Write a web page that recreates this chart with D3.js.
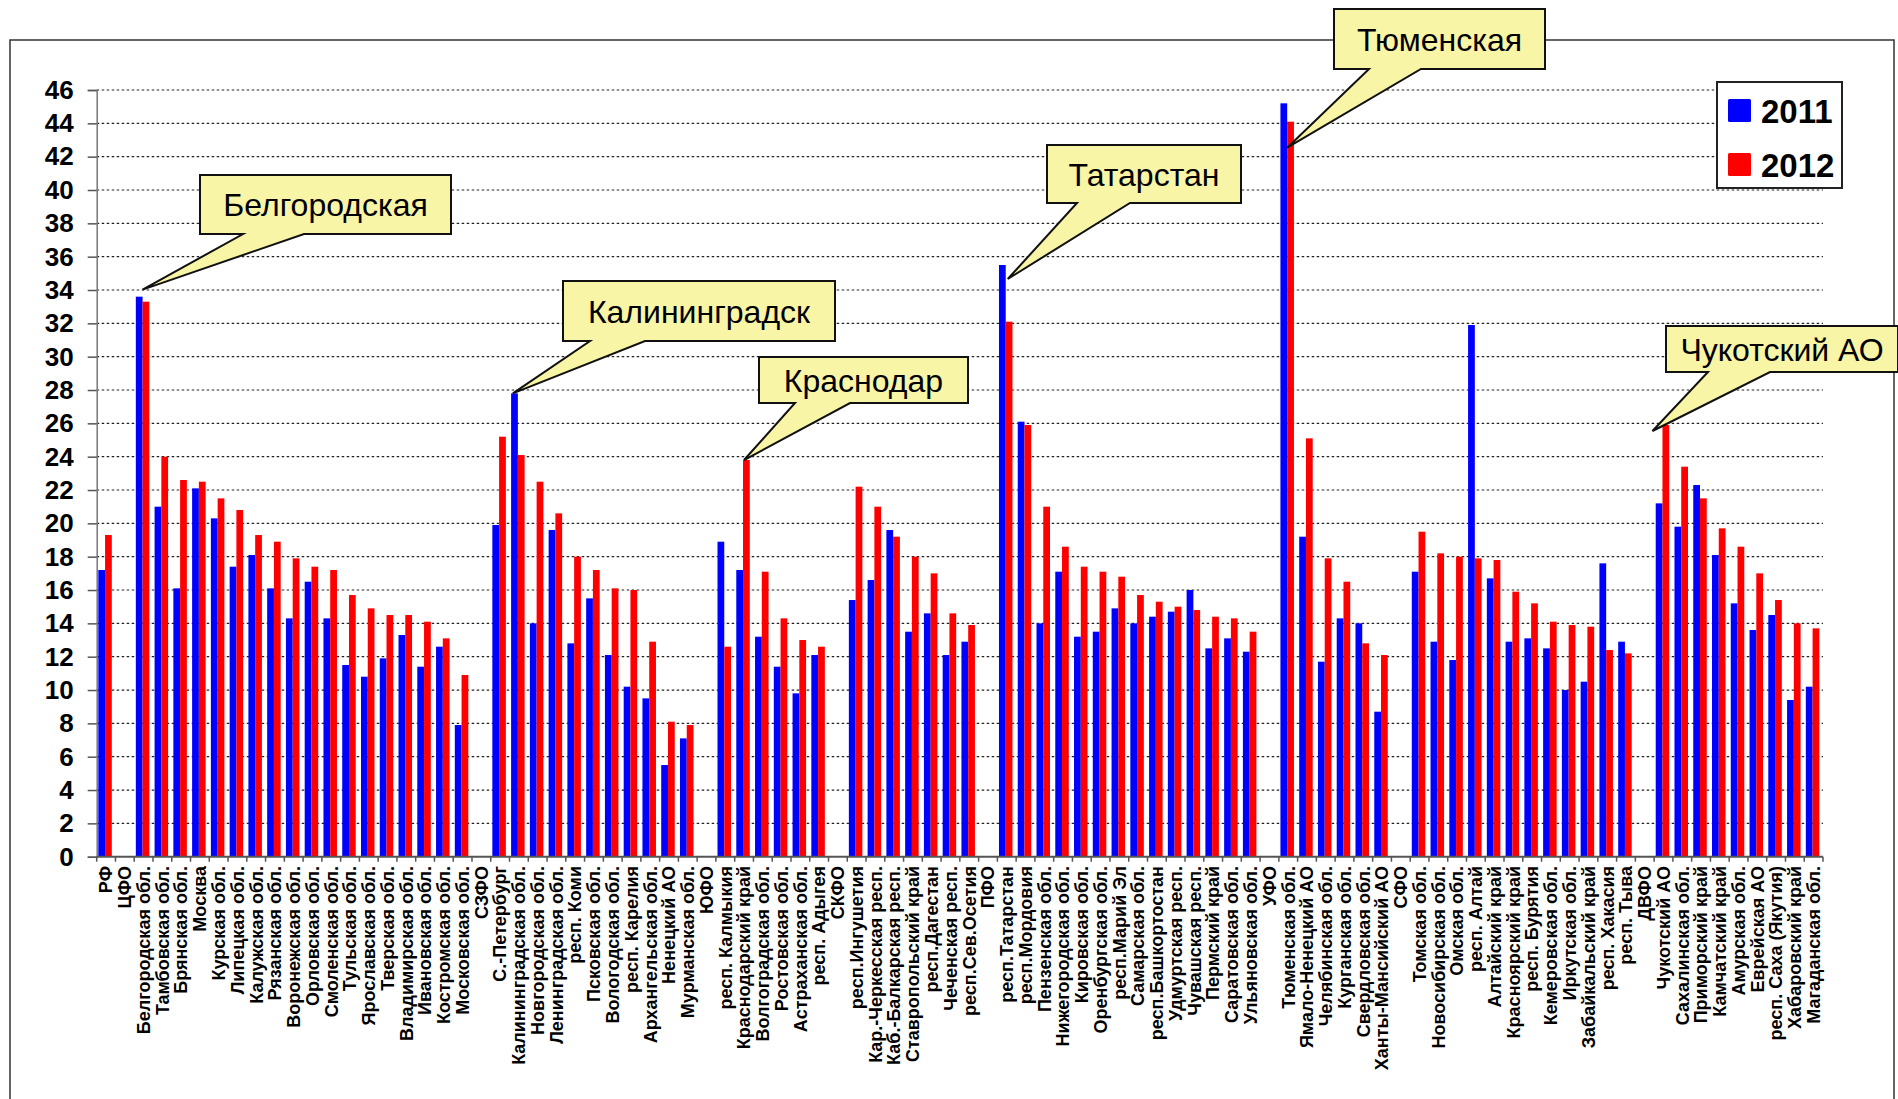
<!DOCTYPE html>
<html>
<head>
<meta charset="utf-8">
<script src="https://cdn.jsdelivr.net/npm/d3@7"></script>
<style>
  body { margin: 0; background: #fff; }
  text { font-family: "Liberation Sans", Arial, sans-serif; }
</style>
</head>
<body>
<div id="chart"></div>
<script>
// categories (district headers have no values)
var categories = ["РФ","ЦФО","Белгородская обл.","Тамбовская обл.","Брянская обл.","Москва","Курская обл.","Липецкая обл.","Калужская обл.","Рязанская обл.","Воронежская обл.","Орловская обл.","Смоленская обл.","Тульская обл.","Ярославская обл.","Тверская обл.","Владимирская обл.","Ивановская обл.","Костромская обл.","Московская обл.",
  "СЗФО","С.-Петербург","Калининградская обл.","Новгородская обл.","Ленинградская обл.","респ. Коми","Псковская обл.","Вологодская обл.","респ. Карелия","Архангельская обл.","Ненецкий АО","Мурманская обл.",
  "ЮФО","респ. Калмыкия","Краснодарский край","Волгоградская обл.","Ростовская обл.","Астраханская обл.","респ. Адыгея",
  "СКФО","респ.Ингушетия","Кар.-Черкесская респ.","Каб.-Балкарская респ.","Ставропольский край","респ.Дагестан","Чеченская респ.","респ.Сев.Осетия",
  "ПФО","респ.Татарстан","респ.Мордовия","Пензенская обл.","Нижегородская обл.","Кировская обл.","Оренбургская обл.","респ.Марий Эл","Самарская обл.","респ.Башкортостан","Удмуртская респ.","Чувашская респ.","Пермский край","Саратовская обл.","Ульяновская обл.",
  "УФО","Тюменская обл.","Ямало-Ненецкий АО","Челябинская обл.","Курганская обл.","Свердловская обл.","Ханты-Мансийский АО",
  "СФО","Томская обл.","Новосибирская обл.","Омская обл.","респ. Алтай","Алтайский край","Красноярский край","респ. Бурятия","Кемеровская обл.","Иркутская обл.","Забайкальский край","респ. Хакасия","респ. Тыва",
  "ДВФО","Чукотский АО","Сахалинская обл.","Приморский край","Камчатский край","Амурская обл.","Еврейская АО","респ. Саха (Якутия)","Хабаровский край","Магаданская обл."];

var values2011 = [17.2,null,33.6,21.0,16.1,22.1,20.3,17.4,18.1,16.1,14.3,16.5,14.3,11.5,10.8,11.9,13.3,11.4,12.6,7.9,
  null,19.9,27.8,14.0,19.6,12.8,15.5,12.1,10.2,9.5,5.5,7.1,
  null,18.9,17.2,13.2,11.4,9.8,12.1,
  null,15.4,16.6,19.6,13.5,14.6,12.1,12.9,
  null,35.5,26.1,14.0,17.1,13.2,13.5,14.9,14.0,14.4,14.7,16.0,12.5,13.1,12.3,
  null,45.2,19.2,11.7,14.3,14.0,8.7,
  null,17.1,12.9,11.8,31.9,16.7,12.9,13.1,12.5,10.0,10.5,17.6,12.9,
  null,21.2,19.8,22.3,18.1,15.2,13.6,14.5,9.4,10.2];

var values2012 = [19.3,null,33.3,24.0,22.6,22.5,21.5,20.8,19.3,18.9,17.9,17.4,17.2,15.7,14.9,14.5,14.5,14.1,13.1,10.9,
  null,25.2,24.1,22.5,20.6,18.0,17.2,16.1,16.0,12.9,8.1,7.9,
  null,12.6,23.8,17.1,14.3,13.0,12.6,
  null,22.2,21.0,19.2,18.0,17.0,14.6,13.9,
  null,32.1,25.9,21.0,18.6,17.4,17.1,16.8,15.7,15.3,15.0,14.8,14.4,14.3,13.5,
  null,44.1,25.1,17.9,16.5,12.8,12.1,
  null,19.5,18.2,18.0,17.9,17.8,15.9,15.2,14.1,13.9,13.8,12.4,12.2,
  null,25.9,23.4,21.5,19.7,18.6,17.0,15.4,14.0,13.7];

var seriesNames = ["2011", "2012"];
var seriesColors = ["#0000ff", "#ff0000"];
var yTicks = d3.range(0, 47, 2);

// callouts: label, category, series whose bar top the pointer aims at
var callouts = [
  { label: "Белгородская", cat: "Белгородская обл.", s: 0 },
  { label: "Калининградск", cat: "Калининградская обл.", s: 0 },
  { label: "Краснодар", cat: "Краснодарский край", s: 1 },
  { label: "Татарстан", cat: "респ.Татарстан", s: 0 },
  { label: "Тюменская", cat: "Тюменская обл.", s: 1 },
  { label: "Чукотский АО", cat: "Чукотский АО", s: 1 }
];

var svgWidth = 1898;
var svgHeight = 1099;

var svg = d3.select("#chart")
  .append("svg")
  .attr("width", svgWidth)
  .attr("height", svgHeight);

svg.append("rect").attr("width", svgWidth).attr("height", svgHeight).attr("fill", "#fff");

// outer frame
svg.append("rect")
  .attr("x", 10).attr("y", 40)
  .attr("width", 1884).attr("height", 1100)
  .attr("fill", "none")
  .attr("stroke", "#333")
  .attr("stroke-width", 1.5);

var plot = { left: 96.7, right: 1823, top: 90, bottom: 856.7 };

var x = d3.scaleBand()
  .domain(categories)
  .range([plot.left, plot.right]);

var bw = x.bandwidth();
var xSub = d3.scaleBand()
  .domain(seriesNames)
  .range([bw * 0.085, bw * 0.805]);

var y = d3.scaleLinear()
  .domain([0, 46])
  .range([plot.bottom, plot.top]);

// gridlines
svg.append("g")
  .selectAll("line")
  .data(yTicks.filter(d => d > 0))
  .enter()
  .append("line")
  .attr("x1", plot.left)
  .attr("x2", plot.right)
  .attr("y1", d => y(d))
  .attr("y2", d => y(d))
  .attr("stroke", "#222")
  .attr("stroke-width", 1.2)
  .attr("stroke-dasharray", "2.5,2.5");

// bars
var series = [values2011, values2012];
var barGroup = svg.append("g");
series.forEach(function(vals, si) {
  barGroup.selectAll(".bar" + si)
    .data(categories.map((c, i) => ({ cat: c, v: vals[i] })).filter(d => d.v != null))
    .enter()
    .append("rect")
    .attr("x", d => x(d.cat) + xSub(seriesNames[si]))
    .attr("width", xSub.bandwidth())
    .attr("y", d => y(d.v))
    .attr("height", d => y(0) - y(d.v))
    .attr("fill", seriesColors[si]);
});

// y axis
var leftAxis = d3.axisLeft(y).tickValues(yTicks).tickSize(9).tickPadding(14);
var yAxis = svg.append("g")
  .attr("transform", `translate(${plot.left},0)`)
  .call(leftAxis);
yAxis.select(".domain").attr("stroke", "#777").attr("stroke-width", 1.5);
yAxis.selectAll(".tick line").attr("stroke", "#555").attr("stroke-width", 1.5);
yAxis.selectAll("text")
  .attr("font-size", 26)
  .attr("font-weight", "bold")
  .attr("fill", "#000")
  .style("font-family", "'Liberation Sans', Arial, sans-serif");

// x axis line and ticks at category boundaries
svg.append("line")
  .attr("x1", plot.left).attr("x2", plot.right)
  .attr("y1", plot.bottom).attr("y2", plot.bottom)
  .attr("stroke", "#555").attr("stroke-width", 2);

svg.append("g")
  .selectAll("line")
  .data(categories.concat([null]))
  .enter()
  .append("line")
  .attr("x1", (d, i) => plot.left + i * bw)
  .attr("x2", (d, i) => plot.left + i * bw)
  .attr("y1", plot.bottom)
  .attr("y2", plot.bottom + 5)
  .attr("stroke", "#555")
  .attr("stroke-width", 1.5);

// category labels
svg.append("g")
  .selectAll("text")
  .data(categories)
  .enter()
  .append("text")
  .attr("transform", d => `translate(${x(d) + bw / 2},866) rotate(-90)`)
  .attr("text-anchor", "end")
  .attr("dy", "0.35em")
  .attr("font-size", 18)
  .attr("font-weight", "bold")
  .text(d => d);

// legend
var legend = svg.append("g");
legend.append("rect")
  .attr("x", 1717).attr("y", 82)
  .attr("width", 125).attr("height", 106)
  .attr("fill", "#fff")
  .attr("stroke", "#222")
  .attr("stroke-width", 2);
seriesNames.forEach(function(name, i) {
  legend.append("rect")
    .attr("x", 1728).attr("y", 99 + i * 54)
    .attr("width", 23).attr("height", 23)
    .attr("rx", 1.5)
    .attr("fill", seriesColors[i]);
  legend.append("text")
    .attr("x", 1761).attr("y", 123 + i * 54)
    .attr("font-size", 33)
    .attr("font-weight", "bold")
    .text(name);
});

// callout boxes with pointers
var boxes = [
  { x0: 200, y0: 175, x1: 451, y1: 234, b0: 243, b1: 304, tx: 0, ty: -7 },
  { x0: 563, y0: 281, x1: 835, y1: 341, b0: 590, b1: 645, tx: -5, ty: 0 },
  { x0: 759, y0: 357, x1: 968, y1: 403, b0: 795, b1: 850, tx: 1, ty: 0 },
  { x0: 1047, y0: 145, x1: 1241, y1: 203, b0: 1077, b1: 1130, tx: 2, ty: 14 },
  { x0: 1334, y0: 9, x1: 1545, y1: 69, b0: 1369, b1: 1421, tx: 0, ty: 26 },
  { x0: 1666, y0: 326, x1: 1898, y1: 372, b0: 1708, b1: 1770, tx: -10, ty: 6 }
];

callouts.forEach(function(c, i) {
  var b = boxes[i];
  var idx = categories.indexOf(c.cat);
  var v = series[c.s][idx];
  var tipX = x(c.cat) + xSub(seriesNames[c.s]) + (c.s === 0 ? xSub.bandwidth() : 0) + b.tx;
  var tipY = y(v) + b.ty;
  var p = d3.path();
  p.moveTo(b.x0, b.y0);
  p.lineTo(b.x1, b.y0);
  p.lineTo(b.x1, b.y1);
  p.lineTo(b.b1, b.y1);
  p.lineTo(tipX, tipY);
  p.lineTo(b.b0, b.y1);
  p.lineTo(b.x0, b.y1);
  p.closePath();
  svg.append("path")
    .attr("d", p.toString())
    .attr("fill", "#f8f5a6")
    .attr("stroke", "#111")
    .attr("stroke-width", 2)
    .attr("stroke-linejoin", "miter");
  svg.append("text")
    .attr("x", (b.x0 + b.x1) / 2)
    .attr("y", (b.y0 + b.y1) / 2)
    .attr("dy", "0.36em")
    .attr("text-anchor", "middle")
    .attr("font-size", 32)
    .text(c.label);
});
</script>
</body>
</html>
